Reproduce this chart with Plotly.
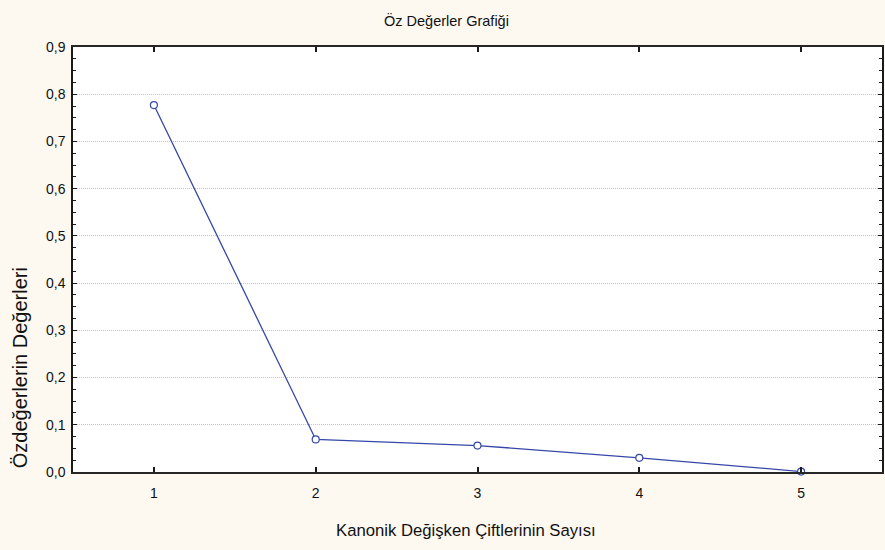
import plotly.graph_objects as go

pairs = [1, 2, 3, 4, 5]
eigenvalues = [0.777, 0.069, 0.056, 0.030, 0.001]

title_text = "Öz Değerler Grafiği"
x_title = "Kanonik Değişken Çiftlerinin Sayısı"
y_title = "Özdeğerlerin Değerleri"

bg = "#FDF9F1"
axis_color = "#1a1a1a"
font_family = "Liberation Sans, Arial, sans-serif"

fig = go.Figure()
fig.add_trace(go.Scatter(
    x=pairs, y=eigenvalues, mode="lines+markers",
    line=dict(color="#3548A8", width=1.3),
    marker=dict(symbol="circle", size=7, color="white", line=dict(width=1.2, color="#3548A8")),
    showlegend=False, cliponaxis=False,
))

fig.update_layout(
    width=885, height=550,
    margin=dict(l=73, r=1, t=47, b=78),
    paper_bgcolor=bg, plot_bgcolor="white",
    separators=", ",
    font=dict(family=font_family, color="#111"),
    annotations=[
        dict(text=title_text, xref="paper", yref="paper", x=0.462, y=1.0, yshift=27,
             showarrow=False, font=dict(size=14.5, family=font_family, color="#111"),
             xanchor="center", yanchor="middle"),
        dict(text=x_title, xref="paper", yref="paper", x=0.486, y=0, yshift=-58,
             showarrow=False, font=dict(size=16.7, family=font_family, color="#111"),
             xanchor="center", yanchor="middle"),
        dict(text=y_title, xref="paper", yref="paper", x=0, xshift=-53, y=0.244,
             textangle=-90, showarrow=False, font=dict(size=20, family=font_family, color="#111"),
             xanchor="center", yanchor="middle"),
    ],
)

fig.update_xaxes(
    range=[0.5, 5.5], tickvals=pairs, ticktext=[str(p) for p in pairs],
    showgrid=False, zeroline=False,
    showline=True, linecolor="#262626", linewidth=2, mirror="ticks",
    ticks="inside", ticklen=5, tickwidth=1.5, tickcolor=axis_color,
    ticklabelstandoff=7,
    tickfont=dict(size=14, family=font_family, color="#111"),
)
fig.update_yaxes(
    range=[0, 0.9], dtick=0.1, tickformat=".1f",
    showgrid=True, gridcolor="#c4c4c4", griddash="1px,1px", gridwidth=1,
    zeroline=False,
    showline=True, linecolor=axis_color, linewidth=1.5, mirror="ticks",
    ticks="inside", ticklen=4, tickwidth=1.2, tickcolor=axis_color,
    ticklabelstandoff=3,
    minor=dict(dtick=0.025, ticks="inside", ticklen=3, tickwidth=1, tickcolor=axis_color, showgrid=False),
    tickfont=dict(size=14, family=font_family, color="#111"),
)

fig.write_html("out.html", config={"displayModeBar": False},
               post_script="document.body.style.margin='0';document.body.style.overflow='hidden';")
